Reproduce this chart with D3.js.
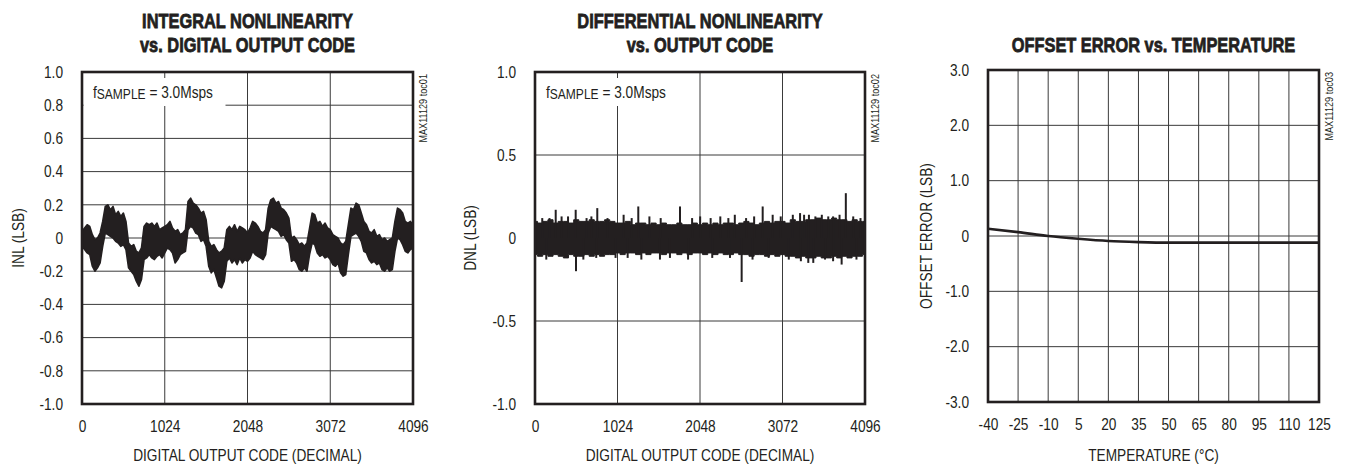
<!DOCTYPE html>
<html>
<head>
<meta charset="utf-8">
<script src="https://cdn.jsdelivr.net/npm/d3@7"></script>
<style>
	body { margin: 0; background: #fff; }
	svg { display: block; }
	text { fill: #231f20; font-family: "Liberation Sans", Arial, sans-serif; }
</style>
</head>
<body>
<svg id="chart" width="1346" height="466"></svg>
<script>
// ---- data ----
var codeTicks = [0, 1024, 2048, 3072, 4096];

var inlTicks = [1.0, 0.8, 0.6, 0.4, 0.2, 0, -0.2, -0.4, -0.6, -0.8, -1.0];
var inlCode = [0, 32, 64, 96, 128, 160, 192, 224, 256, 288, 320, 352, 384, 416, 448, 480,
	512, 544, 576, 608, 640, 672, 704, 736, 768, 800, 832, 864, 896, 928, 960, 992,
	1024, 1056, 1088, 1120, 1152, 1184, 1216, 1248, 1280, 1312, 1344, 1376, 1408, 1440, 1472, 1504,
	1536, 1568, 1600, 1632, 1664, 1696, 1728, 1760, 1792, 1824, 1856, 1888, 1920, 1952, 1984, 2016,
	2048, 2080, 2112, 2144, 2176, 2208, 2240, 2272, 2304, 2336, 2368, 2400, 2432, 2464, 2496, 2528,
	2560, 2592, 2624, 2656, 2688, 2720, 2752, 2784, 2816, 2848, 2880, 2912, 2944, 2976, 3008, 3040,
	3072, 3104, 3136, 3168, 3200, 3232, 3264, 3296, 3328, 3360, 3392, 3424, 3456, 3488, 3520, 3552,
	3584, 3616, 3648, 3680, 3712, 3744, 3776, 3808, 3840, 3872, 3904, 3936, 3968, 4000, 4032, 4064, 4096];
var inlHigh = [0.04, 0.06, 0.08, 0.07, 0.02, -0.01, 0.00, 0.03, 0.10, 0.19, 0.20, 0.17, 0.19, 0.14, 0.16, 0.13,
	0.15, 0.10, -0.03, -0.05, -0.04, -0.08, -0.09, -0.06, 0.07, 0.09, 0.08, 0.09, 0.07, 0.09, 0.05, 0.06,
	0.07, 0.08, 0.10, 0.06, 0.04, 0.05, 0.02, 0.03, 0.05, 0.22, 0.24, 0.21, 0.20, 0.18, 0.15, 0.16,
	0.11, -0.02, -0.05, -0.04, -0.07, -0.09, -0.08, -0.06, 0.05, 0.07, 0.05, 0.08, 0.04, 0.07, 0.06, 0.05,
	0.03, 0.06, 0.10, 0.09, 0.07, 0.04, 0.03, 0.05, 0.18, 0.23, 0.24, 0.21, 0.22, 0.18, 0.17, 0.15,
	0.12, 0.00, 0.01, -0.01, -0.04, -0.03, -0.05, -0.03, 0.06, 0.15, 0.14, 0.09, 0.10, 0.07, 0.09, 0.06,
	0.05, 0.02, 0.01, 0.00, -0.03, -0.04, -0.02, 0.08, 0.18, 0.17, 0.21, 0.20, 0.15, 0.10, 0.08, 0.04,
	0.03, 0.05, 0.01, 0.02, -0.01, 0.00, -0.02, -0.01, 0.00, 0.10, 0.18, 0.17, 0.15, 0.10, 0.09, 0.10, 0.08];
var inlLow = [-0.05, -0.07, -0.09, -0.10, -0.17, -0.20, -0.18, -0.15, -0.05, 0.03, 0.02, 0.01, 0.00, -0.02, -0.03, -0.05,
	-0.04, -0.07, -0.18, -0.20, -0.22, -0.26, -0.29, -0.25, -0.13, -0.12, -0.10, -0.12, -0.13, -0.11, -0.10, -0.12,
	-0.09, -0.06, -0.07, -0.09, -0.15, -0.13, -0.10, -0.09, -0.08, 0.05, 0.07, 0.06, 0.03, 0.02, -0.02, -0.01,
	-0.05, -0.17, -0.21, -0.19, -0.24, -0.29, -0.30, -0.26, -0.14, -0.12, -0.15, -0.13, -0.16, -0.12, -0.15, -0.13,
	-0.14, -0.12, -0.08, -0.10, -0.11, -0.12, -0.13, -0.10, 0.03, 0.07, 0.06, 0.05, 0.04, 0.01, 0.02, -0.01,
	-0.03, -0.14, -0.13, -0.15, -0.19, -0.20, -0.18, -0.20, -0.10, -0.03, -0.04, -0.09, -0.11, -0.10, -0.12, -0.11,
	-0.13, -0.16, -0.17, -0.15, -0.21, -0.23, -0.22, -0.10, 0.01, 0.02, 0.03, 0.01, -0.02, -0.08, -0.09, -0.13,
	-0.15, -0.14, -0.16, -0.15, -0.19, -0.20, -0.18, -0.20, -0.19, -0.08, 0.00, -0.01, -0.04, -0.08, -0.09, -0.07, -0.06];

var dnlTicks = [1.0, 0.5, 0, -0.5, -1.0];
var dnlCode = [0, 64, 128, 192, 256, 320, 384, 448, 512, 576, 640, 704, 768, 832, 896, 960,
	1024, 1088, 1152, 1216, 1280, 1344, 1408, 1472, 1536, 1600, 1664, 1728, 1792, 1856, 1920, 1984,
	2048, 2112, 2176, 2240, 2304, 2368, 2432, 2496, 2560, 2624, 2688, 2752, 2816, 2880, 2944, 3008,
	3072, 3136, 3200, 3264, 3328, 3392, 3456, 3520, 3584, 3648, 3712, 3776, 3840, 3904, 3968, 4032, 4096];
var dnlHigh = [0.10, 0.09, 0.10, 0.11, 0.09, 0.10, 0.10, 0.09, 0.11, 0.10, 0.10, 0.11, 0.10, 0.10, 0.11, 0.10,
	0.09, 0.09, 0.10, 0.08, 0.09, 0.09, 0.08, 0.09, 0.08, 0.09, 0.08, 0.08, 0.09, 0.08, 0.08, 0.09,
	0.08, 0.09, 0.08, 0.09, 0.08, 0.09, 0.09, 0.08, 0.09, 0.10, 0.09, 0.08, 0.09, 0.10, 0.09, 0.10,
	0.10, 0.09, 0.11, 0.10, 0.10, 0.11, 0.11, 0.12, 0.11, 0.11, 0.12, 0.11, 0.11, 0.10, 0.11, 0.10, 0.10];
var dnlLow = [-0.10, -0.11, -0.10, -0.11, -0.10, -0.11, -0.12, -0.10, -0.11, -0.11, -0.10, -0.11, -0.10, -0.11, -0.10, -0.10,
	-0.09, -0.10, -0.09, -0.09, -0.10, -0.09, -0.10, -0.09, -0.09, -0.10, -0.09, -0.09, -0.10, -0.09, -0.10, -0.09,
	-0.09, -0.10, -0.09, -0.10, -0.09, -0.10, -0.10, -0.09, -0.10, -0.10, -0.11, -0.10, -0.10, -0.11, -0.10, -0.11,
	-0.10, -0.11, -0.11, -0.12, -0.11, -0.12, -0.12, -0.11, -0.12, -0.12, -0.11, -0.12, -0.11, -0.12, -0.11, -0.11, -0.10];
var dnlSpikeCode = [90, 180, 257, 330, 410, 505, 640, 700, 773, 900, 1100, 1200, 1282, 1420, 1560, 1800, 1950, 2050, 2180, 2300, 2400, 2480,
	2620, 2720, 2826, 2950, 3050, 3200, 3290, 3340, 3400, 3480, 3560, 3640, 3700, 3780, 3858, 3950, 4040,
	140, 509, 600, 760, 1000, 1150, 1320, 1551, 1675, 1900, 2200, 2420, 2565, 2700, 2900, 3150, 3300, 3392, 3454, 3600, 3700, 3806, 3990];
var dnlSpikeVal = [0.12, 0.12, 0.17, 0.13, 0.13, 0.17, 0.12, 0.13, 0.18, 0.12, 0.14, 0.12, 0.19, 0.13, 0.12, 0.19, 0.12, 0.13, 0.12, 0.13, 0.12, 0.14,
	0.12, 0.13, 0.19, 0.14, 0.13, 0.14, 0.15, 0.14, 0.14, 0.13, 0.14, 0.13, 0.13, 0.14, 0.27, 0.13, 0.12,
	-0.13, -0.20, -0.13, -0.12, -0.12, -0.12, -0.13, -0.13, -0.12, -0.13, -0.12, -0.12, -0.265, -0.13, -0.12, -0.13, -0.14, -0.15, -0.15, -0.13, -0.14, -0.16, -0.13];

var tempTicks = [-40, -25, -10, 5, 20, 35, 50, 65, 80, 95, 110, 125];
var offsetTicks = [3.0, 2.0, 1.0, 0, -1.0, -2.0, -3.0];
var offsetVal = [0.13, 0.07, 0.0, -0.05, -0.09, -0.11, -0.12, -0.12, -0.12, -0.12, -0.12, -0.12];

var ink = "#231f20";
var narrow = 0.83;   // fake a condensed face
var svg = d3.select("#chart");

function fmt1(d) { return d === 0 ? "0" : d.toFixed(1); }

// text squeezed horizontally, placed at (x, y)
function label(parent, x, y, str, size, opts)
{
	opts = opts || {};
	var sx = opts.sx || narrow;
	var t = parent.append("text")
		.attr("transform", "translate(" + x + "," + y + ")" + (opts.rotate ? " rotate(" + opts.rotate + ")" : "") + " scale(" + sx + ",1)")
		.attr("text-anchor", opts.anchor || "middle")
		.style("font-size", size + "px")
		.text(str);
	if (opts.bold)
		t.style("font-weight", "bold").attr("stroke", ink).attr("stroke-width", 0.8);
	if (opts.dy) t.attr("dy", opts.dy);
	return t;
}

function drawPanel(p)
{
	var x = d3.scaleLinear().domain(p.xDomain).range([p.left, p.right]);
	var y = d3.scaleLinear().domain(p.yDomain).range([p.bottom, p.top]);
	var g = svg.append("g");

	// grid
	g.selectAll(".hgrid")
		.data(p.yTicks.filter(function(d){ return d !== p.yDomain[0] && d !== p.yDomain[1]; }))
		.enter().append("line")
		.attr("x1", p.left).attr("x2", p.right)
		.attr("y1", function(d){ return y(d); }).attr("y2", function(d){ return y(d); })
		.attr("stroke", "#3a3a3a").attr("stroke-width", 1);
	g.selectAll(".vgrid")
		.data(p.xTicks.filter(function(d){ return d !== p.xDomain[0] && d !== p.xDomain[1]; }))
		.enter().append("line")
		.attr("y1", p.top).attr("y2", p.bottom)
		.attr("x1", function(d){ return x(d); }).attr("x2", function(d){ return x(d); })
		.attr("stroke", "#3a3a3a").attr("stroke-width", 1);

	// axes (labels only)
	var ya = g.append("g").attr("transform", "translate(" + p.left + ",0)")
		.call(d3.axisLeft(y).tickValues(p.yTicks).tickFormat(p.yFormat).tickSize(0).tickPadding(19));
	var xa = g.append("g").attr("transform", "translate(0," + p.bottom + ")")
		.call(d3.axisBottom(x).tickValues(p.xTicks).tickFormat(function(d){ return d; }).tickSize(0).tickPadding(16));
	[ya, xa].forEach(function(a)
	{
		a.select(".domain").remove();
		a.selectAll("text").attr("fill", ink)
			.style("font-size", "16.5px")
			.style("font-family", "'Liberation Sans', Arial, sans-serif")
			.attr("transform", "scale(" + narrow + ",1)");
	});
	ya.selectAll("text").attr("x", -19 / narrow);

	var cx = (p.left + p.right) / 2, cy = (p.top + p.bottom) / 2;
	p.title.forEach(function(t, i)
	{
		label(g, cx, p.titleY + i * 24, t, 21, { bold: true, sx: 0.78 });
	});
	label(g, cx, 461, p.xLabel, 16.5);
	label(g, p.yLabelX, cy, p.yLabel, 16.5, { rotate: -90, dy: "0.35em" });
	label(g, p.right + 10, p.top + 2, p.tag, 11, { rotate: -90, anchor: "end", dy: "0.35em" });

	p.x = x; p.y = y; p.g = g;
	return p;
}

function drawBorder(p)
{
	p.g.append("rect")
		.attr("x", p.left).attr("y", p.top)
		.attr("width", p.right - p.left).attr("height", p.bottom - p.top)
		.attr("fill", "none").attr("stroke", ink).attr("stroke-width", 2.6);
}

function sampleNote(p)
{
	p.g.append("rect")
		.attr("x", p.left + 1.5).attr("y", p.top + 6)
		.attr("width", 142).attr("height", 28)
		.attr("fill", "#fff");
	var t = label(p.g, p.left + 11, p.top + 26, "", 16.5, { anchor: "start" });
	t.append("tspan").text("f");
	t.append("tspan").style("font-size", "14.5px").attr("dy", 1).text("SAMPLE");
	t.append("tspan").attr("dy", -1).text(" = 3.0Msps");
}

// ---- INL ----
var inl = drawPanel({
	left: 82, right: 413, top: 72, bottom: 404,
	xDomain: [0, 4096], yDomain: [-1, 1],
	xTicks: codeTicks, yTicks: inlTicks, yFormat: fmt1,
	title: ["INTEGRAL NONLINEARITY", "vs. DIGITAL OUTPUT CODE"], titleY: 28,
	xLabel: "DIGITAL OUTPUT CODE (DECIMAL)", yLabel: "INL (LSB)", yLabelX: 18,
	tag: "MAX11129 toc01"
});
sampleNote(inl);
var inlArea = d3.area()
	.x(function(d, i){ return inl.x(inlCode[i]); })
	.y0(function(d, i){ return inl.y(inlLow[i]); })
	.y1(function(d, i){ return inl.y(inlHigh[i]); });
inl.g.append("path").datum(inlCode)
	.attr("d", inlArea)
	.attr("fill", ink).attr("stroke", ink).attr("stroke-width", 1.6).attr("stroke-linejoin", "round");
drawBorder(inl);

// ---- DNL ----
var dnl = drawPanel({
	left: 535, right: 865, top: 72, bottom: 404,
	xDomain: [0, 4096], yDomain: [-1, 1],
	xTicks: codeTicks, yTicks: dnlTicks, yFormat: fmt1,
	title: ["DIFFERENTIAL NONLINEARITY", "vs. OUTPUT CODE"], titleY: 28,
	xLabel: "DIGITAL OUTPUT CODE (DECIMAL)", yLabel: "DNL (LSB)", yLabelX: 470,
	tag: "MAX11129 toc02"
});
sampleNote(dnl);
var dnlArea = d3.area()
	.x(function(d, i){ return dnl.x(dnlCode[i]); })
	.y0(function(d, i){ return dnl.y(dnlLow[i]); })
	.y1(function(d, i){ return dnl.y(dnlHigh[i]); })
	.curve(d3.curveStep);
dnl.g.append("path").datum(dnlCode)
	.attr("d", dnlArea)
	.attr("fill", ink).attr("stroke", ink).attr("stroke-width", 1);
dnl.g.selectAll(".spike")
	.data(dnlSpikeCode)
	.enter().append("line")
	.attr("x1", function(d){ return dnl.x(d); }).attr("x2", function(d){ return dnl.x(d); })
	.attr("y1", dnl.y(0))
	.attr("y2", function(d, i){ return dnl.y(dnlSpikeVal[i]); })
	.attr("stroke", ink).attr("stroke-width", 2);
drawBorder(dnl);

// ---- Offset error ----
var off = drawPanel({
	left: 988, right: 1319, top: 70, bottom: 402,
	xDomain: [-40, 125], yDomain: [-3, 3],
	xTicks: tempTicks, yTicks: offsetTicks, yFormat: fmt1,
	title: ["OFFSET ERROR vs. TEMPERATURE"], titleY: 52,
	xLabel: "TEMPERATURE (°C)", yLabel: "OFFSET ERROR (LSB)", yLabelX: 926,
	tag: "MAX11129 toc03"
});
var offLine = d3.line()
	.x(function(d, i){ return off.x(tempTicks[i]); })
	.y(function(d){ return off.y(d); })
	.curve(d3.curveMonotoneX);
off.g.append("path").datum(offsetVal)
	.attr("d", offLine)
	.attr("fill", "none").attr("stroke", ink).attr("stroke-width", 2.6);
drawBorder(off);
</script>
</body>
</html>
